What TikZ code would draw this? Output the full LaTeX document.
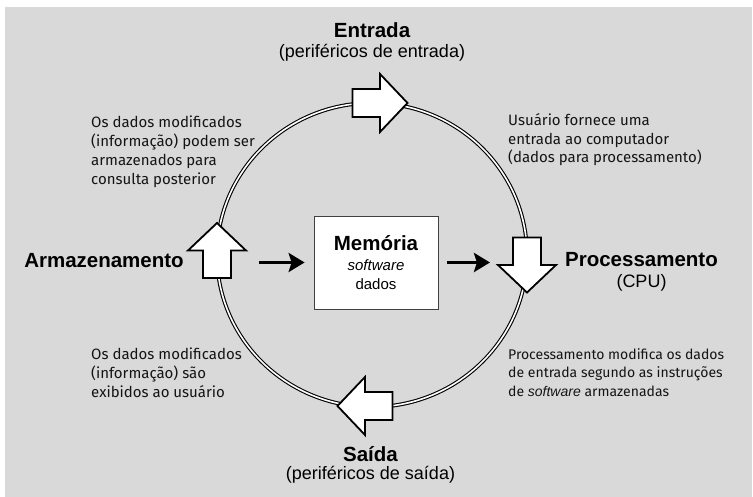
\documentclass[tikz,border=0pt]{standalone}
\usepackage{fontspec}
\setmainfont{Liberation Sans}
\newfontfamily\notefont{Fira Sans}
\usepackage[]{xcolor}
\usepackage[]{tikz}
\usetikzlibrary{arrows.meta}
\usetikzlibrary{positioning}
\colorlet{bggray}{black!15}
\colorlet{notetext}{black!92}
\tikzset{
  ring/.style={line width=1.1pt,double=white,double distance=1.6pt},
  block arrow/.style={draw=black,fill=white,line width=1.8pt,line join=miter},
  memory/.style={draw=black!75,fill=white,line width=0.8pt,minimum width=124pt,minimum height=93pt,inner sep=0pt},
  title/.style={font=\fontsize{20.5}{24}\selectfont\bfseries,inner sep=0pt},
  subtitle/.style={font=\fontsize{18}{22}\selectfont,inner sep=0pt},
  note/.style={font=\notefont\fontsize{15}{18.8}\selectfont,text=notetext,align=left,inner sep=0pt,anchor=north west},
  connect arrow/.style={-{Stealth[length=16pt,width=19pt,inset=3pt]},line width=3.8pt,black}
}
% block arrow on the ring: centre, name, direction
\newcommand{\blockarrow}[3]{\coordinate (#2) at (#1);
  \draw[block arrow,shift={(#1)},rotate=#3] (-27.5,-14) -- (0,-14) -- (0,-29) -- (27.5,0)
    -- (0,29) -- (0,14) -- (-27.5,14) -- cycle}

\begin{document}
\begin{tikzpicture}[x=1pt,y=1pt]
  \useasboundingbox (0,0) rectangle (753,497);
  \fill[bggray] (5,0) rectangle (752,490);
  \draw[ring] (372,242) ellipse [x radius=155, y radius=152];
  \blockarrow{380,394}{a-in}{0};
  \blockarrow{527,232}{a-proc}{270};
  \blockarrow{365,91}{a-out}{180};
  \blockarrow{217,246.5}{a-stor}{90};
  \node[memory] (mem) at (376,234.5) {};
  \node[title] (mem title) at (376,254) {Memória};
  \node[font=\fontsize{15}{18}\selectfont\itshape,inner sep=0pt] (mem sw) at (376,232) {software};
  \node[font=\fontsize{15}{18}\selectfont,inner sep=0pt] (mem data) at (376,213) {dados};
  \draw[connect arrow,shorten <=42pt,shorten >=9pt] (a-stor |- mem.west) -- (mem.west);
  \draw[connect arrow,shorten <=9pt,shorten >=37pt] (mem.east) -- (mem.east -| a-proc);
  % labels
  \node[title] (entrada) at (372,467) {Entrada};
  \node[subtitle] (entrada sub) at (372,444) {(periféricos de entrada)};
  \node[title] (armaz) at (104,236) {Armazenamento};
  \node[title] (proc) at (641.5,237) {Processamento};
  \node[subtitle] (cpu) at (641.5,214) {(CPU)};
  \node[title] (saida) at (370.5,43) {Saída};
  \node[subtitle] (saida sub) at (370.5,22) {(periféricos de saída)};
  % notes
  \node[note] (note tl) at (91,381) {Os dados modificados\\(informação) podem ser\\armazenados para\\consulta posterior};
  \node[note] (note tr) at (508,384) {Usuário fornece uma\\entrada ao computador\\(dados para processamento)};
  \node[note] (note bl) at (91,149) {Os dados modificados\\(informação) são\\exibidos ao usuário};
  \node[note,font=\notefont\fontsize{14}{18.8}\selectfont] (note br) at (508,149) {Processamento modifica os dados\\de entrada segundo as instruções\\de {\rmfamily\itshape software} armazenadas};
\end{tikzpicture}
\end{document}
